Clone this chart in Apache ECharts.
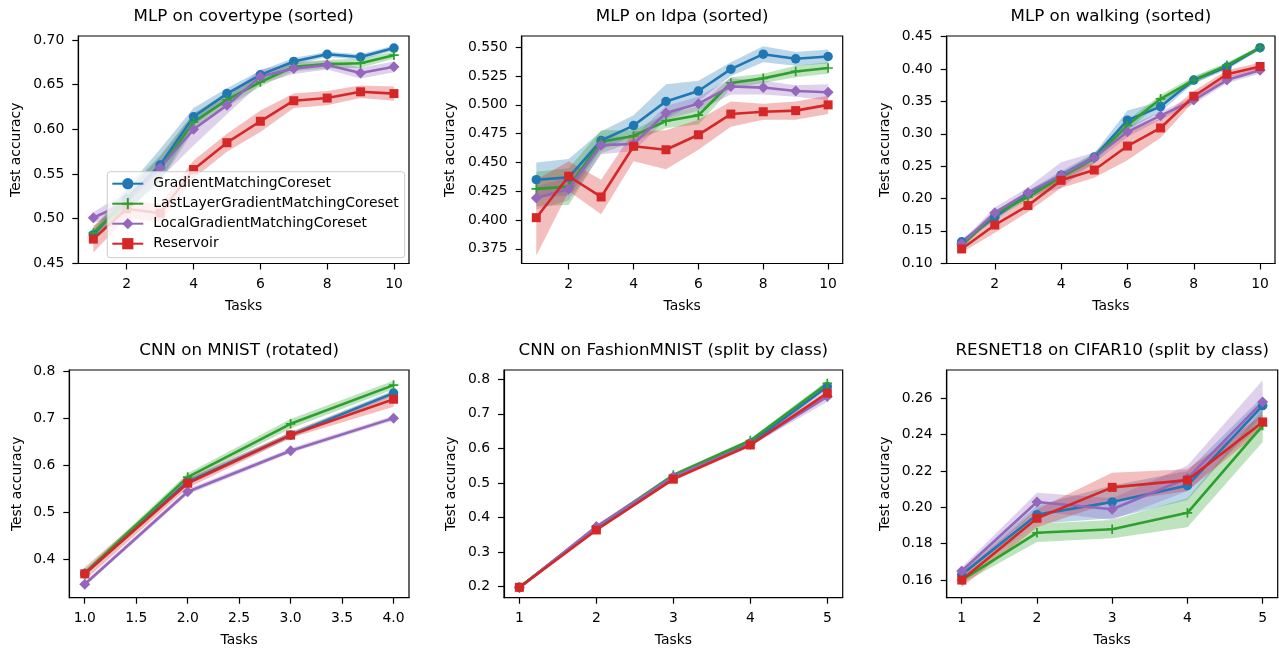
<!DOCTYPE html>
<html><head><meta charset="utf-8">
<script src="https://cdn.jsdelivr.net/npm/echarts@6/dist/echarts.min.js"></script>
<style>html,body{margin:0;padding:0;background:#fff}#c{width:1279px;height:651px}</style>
</head><body><div id="c"></div><script>
// ---------- data ----------
const methods = ['GradientMatchingCoreset', 'LastLayerGradientMatchingCoreset', 'LocalGradientMatchingCoreset', 'Reservoir'];
const tasks10 = [1, 2, 3, 4, 5, 6, 7, 8, 9, 10];
const tasks4 = [1, 2, 3, 4];
const tasks5 = [1, 2, 3, 4, 5];

// MLP on covertype (sorted)
const covGM    = [0.482, 0.522, 0.560, 0.614, 0.640, 0.661, 0.676, 0.684, 0.681, 0.691];
const covLL    = [0.484, 0.520, 0.556, 0.608, 0.633, 0.653, 0.670, 0.673, 0.674, 0.683];
const covLocal = [0.501, 0.518, 0.557, 0.600, 0.627, 0.659, 0.668, 0.672, 0.663, 0.670];
const covRes   = [0.477, 0.511, 0.506, 0.555, 0.585, 0.609, 0.632, 0.635, 0.642, 0.640];
const covGMsd    = [0.005, 0.012, 0.018, 0.010, 0.006, 0.005, 0.004, 0.003, 0.003, 0.003];
const covLLsd    = [0.006, 0.012, 0.015, 0.010, 0.008, 0.005, 0.005, 0.005, 0.005, 0.004];
const covLocalsd = [0.006, 0.012, 0.012, 0.018, 0.010, 0.008, 0.006, 0.005, 0.006, 0.006];
const covRessd   = [0.015, 0.010, 0.010, 0.010, 0.010, 0.012, 0.008, 0.008, 0.007, 0.008];

// MLP on ldpa (sorted)
const ldpaGM    = [0.435, 0.437, 0.469, 0.482, 0.503, 0.512, 0.531, 0.544, 0.540, 0.542];
const ldpaLL    = [0.427, 0.429, 0.468, 0.473, 0.486, 0.491, 0.519, 0.523, 0.529, 0.532];
const ldpaLocal = [0.419, 0.427, 0.465, 0.466, 0.493, 0.501, 0.516, 0.515, 0.512, 0.511];
const ldpaRes   = [0.402, 0.438, 0.420, 0.464, 0.461, 0.474, 0.492, 0.494, 0.495, 0.500];
const ldpaGMsd    = [0.015, 0.016, 0.008, 0.009, 0.015, 0.009, 0.006, 0.007, 0.006, 0.006];
const ldpaLLsd    = [0.015, 0.016, 0.010, 0.005, 0.006, 0.008, 0.005, 0.004, 0.005, 0.005];
const ldpaLocalsd = [0.010, 0.010, 0.008, 0.006, 0.006, 0.006, 0.007, 0.006, 0.005, 0.007];
const ldpaRessd   = [0.033, 0.013, 0.015, 0.013, 0.017, 0.013, 0.011, 0.007, 0.008, 0.008];

// MLP on walking (sorted)
const walkGM    = [0.133, 0.171, 0.207, 0.236, 0.264, 0.321, 0.342, 0.383, 0.403, 0.433];
const walkLL    = [0.127, 0.176, 0.202, 0.233, 0.262, 0.313, 0.354, 0.383, 0.406, 0.433];
const walkLocal = [0.130, 0.178, 0.209, 0.236, 0.263, 0.303, 0.328, 0.352, 0.383, 0.398];
const walkRes   = [0.122, 0.159, 0.189, 0.228, 0.244, 0.281, 0.309, 0.358, 0.392, 0.404];
const walkGMsd    = [0.004, 0.005, 0.005, 0.006, 0.006, 0.015, 0.008, 0.005, 0.004, 0.003];
const walkLLsd    = [0.004, 0.005, 0.005, 0.006, 0.008, 0.008, 0.006, 0.006, 0.004, 0.003];
const walkLocalsd = [0.004, 0.008, 0.008, 0.020, 0.008, 0.008, 0.006, 0.006, 0.005, 0.005];
const walkRessd   = [0.006, 0.012, 0.010, 0.012, 0.012, 0.022, 0.015, 0.008, 0.006, 0.006];

// CNN on MNIST (rotated)
const mnistGM    = [0.370, 0.565, 0.664, 0.753];
const mnistLL    = [0.372, 0.575, 0.688, 0.770];
const mnistLocal = [0.348, 0.544, 0.631, 0.700];
const mnistRes   = [0.370, 0.562, 0.664, 0.740];
const mnistGMsd    = [0.005, 0.006, 0.006, 0.006];
const mnistLLsd    = [0.006, 0.008, 0.010, 0.009];
const mnistLocalsd = [0.005, 0.006, 0.005, 0.005];
const mnistRessd   = [0.014, 0.010, 0.006, 0.016];

// CNN on FashionMNIST (split by class)
const fmGM    = [0.198, 0.369, 0.516, 0.615, 0.779];
const fmLL    = [0.198, 0.372, 0.523, 0.623, 0.788];
const fmLocal = [0.197, 0.374, 0.518, 0.612, 0.750];
const fmRes   = [0.198, 0.364, 0.511, 0.610, 0.760];
const fmGMsd    = [0.003, 0.004, 0.005, 0.006, 0.008];
const fmLLsd    = [0.003, 0.004, 0.005, 0.005, 0.008];
const fmLocalsd = [0.003, 0.005, 0.005, 0.006, 0.015];
const fmRessd   = [0.003, 0.004, 0.005, 0.005, 0.010];

// RESNET18 on CIFAR10 (split by class)
const cifGM    = [0.163, 0.196, 0.203, 0.212, 0.256];
const cifLL    = [0.160, 0.186, 0.188, 0.197, 0.245];
const cifLocal = [0.165, 0.203, 0.199, 0.216, 0.258];
const cifRes   = [0.160, 0.194, 0.211, 0.215, 0.247];
const cifGMsd    = [0.002, 0.005, 0.009, 0.008, 0.005];
const cifLLsd    = [0.002, 0.005, 0.005, 0.008, 0.009];
const cifLocalsd = [0.002, 0.005, 0.006, 0.007, 0.012];
const cifRessd   = [0.004, 0.005, 0.008, 0.006, 0.004];

// tick labels
const xTicks10 = [2, 4, 6, 8, 10];
const xTicks4 = [1.0, 1.5, 2.0, 2.5, 3.0, 3.5, 4.0];
const xTicks5 = [1, 2, 3, 4, 5];
const yTicksCov = [0.45, 0.50, 0.55, 0.60, 0.65, 0.70];
const yTicksLdpa = [0.375, 0.400, 0.425, 0.450, 0.475, 0.500, 0.525, 0.550];
const yTicksWalk = [0.10, 0.15, 0.20, 0.25, 0.30, 0.35, 0.40, 0.45];
const yTicksMnist = [0.4, 0.5, 0.6, 0.7, 0.8];
const yTicksFm = [0.2, 0.3, 0.4, 0.5, 0.6, 0.7, 0.8];
const yTicksCif = [0.16, 0.18, 0.20, 0.22, 0.24, 0.26];

// ---------- layout / style ----------
const FONT = 'DejaVu Sans';
const colors = ['#1f77b4', '#2ca02c', '#9467bd', '#d62728'];
const plusPath = 'path://M0,4.1H10V5.9H0Z M4.1,0H5.9V10H4.1Z';
const diamondPath = 'path://M5,0L10,5L5,10L0,5Z';
const symbols = ['circle', plusPath, diamondPath, 'rect'];
const symbolSizes = [9.5, 9.5, 11, 9];

const panels = [
  {title: 'MLP on covertype (sorted)', x: tasks10, m: [covGM, covLL, covLocal, covRes], s: [covGMsd, covLLsd, covLocalsd, covRessd],
   g: {left: 78.3, top: 36, width: 330.7, height: 227.5}, xr: [0.55, 10.45], yr: [0.4497, 0.7045], xt: xTicks10, yt: yTicksCov, xd: 0, yd: 2, gap: 55},
  {title: 'MLP on ldpa (sorted)', x: tasks10, m: [ldpaGM, ldpaLL, ldpaLocal, ldpaRes], s: [ldpaGMsd, ldpaLLsd, ldpaLocalsd, ldpaRessd],
   g: {left: 521.7, top: 36, width: 321, height: 227.5}, xr: [0.55, 10.45], yr: [0.3622, 0.5598], xt: xTicks10, yt: yTicksLdpa, xd: 0, yd: 3, gap: 64},
  {title: 'MLP on walking (sorted)', x: tasks10, m: [walkGM, walkLL, walkLocal, walkRes], s: [walkGMsd, walkLLsd, walkLocalsd, walkRessd],
   g: {left: 946.7, top: 36, width: 328.3, height: 227.5}, xr: [0.55, 10.45], yr: [0.0995, 0.4511], xt: xTicks10, yt: yTicksWalk, xd: 0, yd: 2, gap: 54},
  {title: 'CNN on MNIST (rotated)', x: tasks4, m: [mnistGM, mnistLL, mnistLocal, mnistRes], s: [mnistGMsd, mnistLLsd, mnistLocalsd, mnistRessd],
   g: {left: 69.3, top: 370, width: 339.7, height: 227.7}, xr: [0.85, 4.15], yr: [0.3194, 0.802], xt: xTicks4, yt: yTicksMnist, xd: 1, yd: 1, gap: 45},
  {title: 'CNN on FashionMNIST (split by class)', x: tasks5, m: [fmGM, fmLL, fmLocal, fmRes], s: [fmGMsd, fmLLsd, fmLocalsd, fmRessd],
   g: {left: 504, top: 370, width: 338.7, height: 227.7}, xr: [0.8, 5.2], yr: [0.168, 0.827], xt: xTicks5, yt: yTicksFm, xd: 0, yd: 1, gap: 46},
  {title: 'RESNET18 on CIFAR10 (split by class)', x: tasks5, m: [cifGM, cifLL, cifLocal, cifRes], s: [cifGMsd, cifLLsd, cifLocalsd, cifRessd],
   g: {left: 946.7, top: 370, width: 331, height: 227.7}, xr: [0.8, 5.2], yr: [0.1503, 0.2756], xt: xTicks5, yt: yTicksCif, xd: 0, yd: 2, gap: 54}
];

function rgba(hex, a) {
  const n = parseInt(hex.slice(1), 16);
  return 'rgba(' + ((n >> 16) & 255) + ',' + ((n >> 8) & 255) + ',' + (n & 255) + ',' + a + ')';
}

const grids = [], xAxes = [], yAxes = [], series = [], graphics = [];
const axisCommon = {
  axisLine: {show: true, onZero: false, lineStyle: {color: '#000', width: 1.2}},
  axisTick: {show: true, inside: false, length: 6, lineStyle: {color: '#000', width: 1.2}},
  splitLine: {show: false},
  nameTextStyle: {fontFamily: FONT, fontSize: 13.9, color: '#000'}
};

panels.forEach((p, pi) => {
  grids.push(Object.assign({show: true, borderColor: '#000', borderWidth: 1.2, backgroundColor: 'transparent', containLabel: false}, p.g));
  xAxes.push(Object.assign({}, axisCommon, {
    type: 'value', gridIndex: pi, min: p.xr[0], max: p.xr[1],
    name: 'Tasks', nameLocation: 'middle', nameGap: 36,
    axisTick: Object.assign({}, axisCommon.axisTick, {customValues: p.xt}),
    axisLabel: {customValues: p.xt, margin: 14, fontFamily: FONT, fontSize: 13.9, color: '#000',
      formatter: v => Number(v).toFixed(p.xd)}
  }));
  yAxes.push(Object.assign({}, axisCommon, {
    type: 'value', gridIndex: pi, min: p.yr[0], max: p.yr[1],
    name: 'Test accuracy', nameLocation: 'middle', nameGap: p.gap, nameRotate: 90,
    axisTick: Object.assign({}, axisCommon.axisTick, {customValues: p.yt}),
    axisLabel: {customValues: p.yt, margin: 14, fontFamily: FONT, fontSize: 13.9, color: '#000',
      formatter: v => Number(v).toFixed(p.yd)}
  }));
  // bands
  p.m.forEach((mean, k) => {
    const sd = p.s[k];
    const xs = p.x;
    const lo = mean.map((v, i) => v - sd[i]);
    const hi = mean.map((v, i) => v + sd[i]);
    series.push({
      type: 'custom', name: 'band' + pi + '_' + k, xAxisIndex: pi, yAxisIndex: pi, z: 1, silent: true, clip: true,
      data: xs.map((x, i) => [x, lo[i], hi[i]]),
      encode: {x: 0, y: [1, 2]},
      renderItem: function (params, api) {
        if (params.dataIndex !== 0) return null;
        const pts = [];
        for (let i = 0; i < xs.length; i++) pts.push(api.coord([xs[i], hi[i]]));
        for (let i = xs.length - 1; i >= 0; i--) pts.push(api.coord([xs[i], lo[i]]));
        return {type: 'polygon', shape: {points: pts}, style: {fill: rgba(colors[k], 0.3)}};
      }
    });
  });
  // lines
  p.m.forEach((mean, k) => {
    series.push({
      type: 'line', name: methods[k], xAxisIndex: pi, yAxisIndex: pi, z: 3,
      data: p.x.map((x, i) => [x, mean[i]]),
      symbol: symbols[k], symbolSize: symbolSizes[k], showSymbol: true, showAllSymbol: true,
      lineStyle: {color: colors[k], width: 2.6},
      itemStyle: {color: colors[k], borderWidth: 0},
      emphasis: {disabled: true}
    });
  });
  graphics.push({
    type: 'text', x: p.g.left + p.g.width / 2, y: p.g.top - 19,
    style: {text: p.title, fontFamily: FONT, fontSize: 16.7, fill: '#000', textAlign: 'center', textVerticalAlign: 'middle'}
  });
});

const chart = echarts.init(document.getElementById('c'), null, {renderer: 'canvas'});
chart.setOption({
  animation: false,
  backgroundColor: '#fff',
  grid: grids, xAxis: xAxes, yAxis: yAxes, series: series,
  graphic: graphics,
  legend: {
    data: methods, orient: 'vertical', left: 107.3, top: 171.7,
    padding: [5, 6, 7, 4], itemWidth: 31, itemHeight: 14, itemGap: 6,
    backgroundColor: 'rgba(255,255,255,0.8)', borderColor: '#cccccc', borderWidth: 1, borderRadius: 3,
    textStyle: {fontFamily: FONT, fontSize: 13.9, color: '#000', lineHeight: 14, padding: [0, 0, 0, 5]},
    selectedMode: false
  }
});
</script></body></html>
